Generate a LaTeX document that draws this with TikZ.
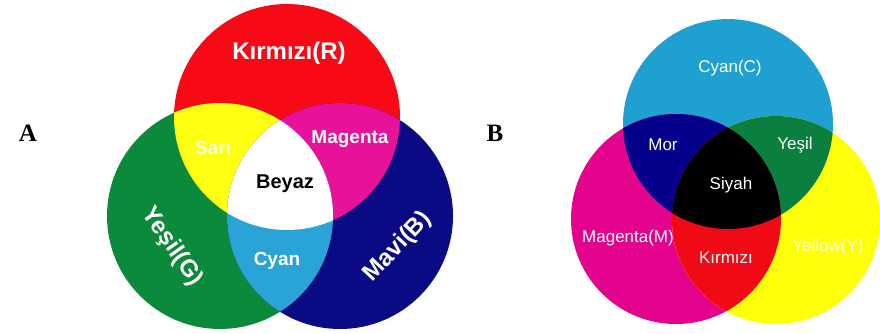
\documentclass[tikz,border=0pt]{standalone}
\usepackage{fontspec}
\setmainfont{Liberation Sans}
\newfontfamily\panelfont{Liberation Serif}
\usepackage{tikz}
\usetikzlibrary{positioning}
\definecolor{AddRed}{HTML}{F70A16}
\definecolor{AddGreen}{HTML}{0B8A3B}
\definecolor{AddBlue}{HTML}{0A0A84}
\definecolor{AddYellow}{HTML}{FFFF12}
\definecolor{AddMagenta}{HTML}{E8129A}
\definecolor{AddCyan}{HTML}{2AA4D6}
\definecolor{SubCyan}{HTML}{1EA0D0}
\definecolor{SubMagenta}{HTML}{E4038C}
\definecolor{SubYellow}{HTML}{FFFF08}
\definecolor{SubPurple}{HTML}{04008C}
\definecolor{SubGreen}{HTML}{0A7F3E}
\definecolor{SubRed}{HTML}{F00A16}
\tikzset{
    boldlbl/.style={text=white, font=\bfseries\fontsize{19}{19}\selectfont, inner sep=0pt},
    biglbl/.style={boldlbl, font=\bfseries\fontsize{24}{24}\selectfont},
    thinlbl/.style={text=white, font=\fontsize{17}{17}\selectfont, inner sep=0pt},
    panel/.style={font=\panelfont\bfseries\fontsize{25}{25}\selectfont, inner sep=0pt}
}

\begin{document}
\begin{tikzpicture}[x=1pt, y=-1pt]
    \useasboundingbox (0,0) rectangle (880,334);
    \fill[white] (0,0) rectangle (880,334);

    % A: additive
    \coordinate (red) at (287,117);
    \coordinate (green) at (220,216);
    \coordinate (blue) at (340,216);
    \fill[AddRed] (red) circle (113pt);
    \fill[AddGreen] (green) circle (113pt);
    \fill[AddBlue] (blue) circle (113pt);
    \begin{scope}
        \clip (red) circle (113pt);
        \fill[AddYellow] (green) circle (113pt);
        \fill[AddMagenta] (blue) circle (113pt);
    \end{scope}
    \begin{scope}
        \clip (green) circle (113pt);
        \fill[AddCyan] (blue) circle (113pt);
        \clip (blue) circle (113pt);
        \fill[white] (red) circle (113pt);
    \end{scope}

    \node[panel] (la) at (28,133) {A};
    \node[biglbl] (lred) at (289,53) {Kırmızı(R)};
    \node[boldlbl, text=white!85!yellow] (lyellow) at (213,148) {Sarı};
    \node[boldlbl] (lmagenta) at (350,139) {Magenta};
    \node[boldlbl, text=black, font=\bfseries\fontsize{20}{20}\selectfont] (lwhite) at (285,184) {Beyaz};
    \node[boldlbl] (lcyan) at (277,261) {Cyan};
    \node[biglbl, rotate=-55] (lgreen) at (172,247) {Yeşil(G)};
    \node[biglbl, rotate=47] (lblue) at (398,247) {Mavi(B)};

    % B: subtractive
    \coordinate (cyan) at (728,124);
    \coordinate (magenta) at (676,219);
    \coordinate (yellow) at (776,220);
    \fill[SubCyan] (cyan) circle (105pt);
    \fill[SubMagenta] (magenta) circle (105pt);
    \fill[SubYellow] (yellow) circle (104pt);
    \begin{scope}
        \clip (cyan) circle (105pt);
        \fill[SubPurple] (magenta) circle (105pt);
        \fill[SubGreen] (yellow) circle (104pt);
    \end{scope}
    \begin{scope}
        \clip (magenta) circle (105pt);
        \fill[SubRed] (yellow) circle (104pt);
        \clip (yellow) circle (104pt);
        \fill[black] (cyan) circle (105pt);
    \end{scope}

    \node[panel] (lb) at (495,133) {B};
    \node[thinlbl] (lc) at (730,68) {Cyan(C)};
    \node[thinlbl] (lmor) at (663,145) {Mor};
    \node[thinlbl] (lyesil) at (795,145) {Yeşil};
    \node[thinlbl] (lsiyah) at (731,185) {Siyah};
    \node[thinlbl] (lm) at (628,238) {Magenta(M)};
    \node[thinlbl] (lkirmizi) at (726,258) {Kırmızı};
    \node[thinlbl, text=white!80!yellow] (ly) at (828,247) {Yellow(Y)};
\end{tikzpicture}
\end{document}
